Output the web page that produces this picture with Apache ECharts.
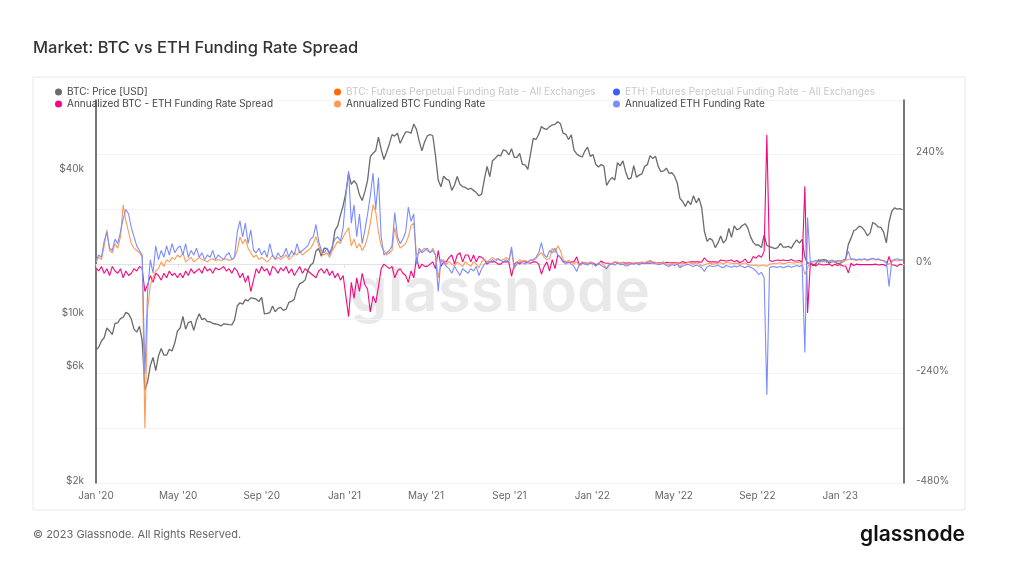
<!DOCTYPE html>
<html>
<head>
<meta charset="utf-8">
<title>Market: BTC vs ETH Funding Rate Spread</title>
<script src="https://cdn.jsdelivr.net/npm/echarts@6/dist/echarts.min.js"></script>
<style>
  html, body { margin: 0; padding: 0; background: #fff; }
  #chart { width: 1024px; height: 568px; }
</style>
</head>
<body>
<div id="chart"></div>
<script>
// one sample every 4 days, starting 2020-01-01
const stepDays = 4;

// BTC price [USD]
const btcPrice = [
  // 2020
  7200, 7400, 7850, 8100, 8900, 8650, 8350, 9300,
  9350, 9750, 9850, 10350, 10200, 9700, 8800,
  8550, 9050, 7900, 4900, 5300, 6200, 6700, 5900,
  6800, 7300, 6850, 6850, 7250, 7130, 7700, 8650,
  8900, 9950, 8800, 9380, 9500, 8700, 9580,
  10200, 9650, 9770, 9470, 9450, 9300, 9250, 9190,
  9080, 9250, 9240, 9200, 9170, 9600, 11000, 11350,
  11200, 11700, 11550, 11900, 11850, 11750, 11500,
  11950, 10200, 10250, 10330, 11000, 10400, 10750, 10850,
  10550, 10670, 11380, 11500, 11750, 12950, 13650, 13800,
  14150, 15500, 16300, 16700, 18700, 19150, 17750,
  19200, 19150, 18300, 19250, 22800, 23800, 26400, 28900,
  // 2021
  32800, 39400, 35500, 36800, 35500, 32100, 30400, 33100,
  36900, 46400, 47900, 49100, 56000, 49700, 45100,
  48400, 52400, 57300, 56500, 58100, 52700, 55800,
  58800, 58800, 58100, 63500, 60300, 53800, 49000, 53500,
  56600, 57400, 56700, 46800, 37000, 34700, 38400, 37300,
  36900, 33500, 35300, 38300, 35500, 34700, 34500,
  33800, 34200, 33500, 32800, 31800, 32300, 37300, 42200,
  38200, 44600, 45600, 47000, 46700, 49500, 49000, 47100,
  50000, 46100, 46000, 47800, 43000, 42800, 41000,
  47700, 55300, 54700, 57400, 62000, 60700, 60300, 61900,
  62900, 63300, 64900, 63600, 58100, 57500, 54700,
  57200, 49400, 47600, 46700, 46200, 49000, 50800, 46500,
  // 2022
  47300, 43100, 41900, 43000, 42300, 35100, 36800, 37900,
  37000, 43800, 42400, 44500, 40100, 37300, 37700,
  42500, 38000, 38800, 39300, 42200, 42900, 46800, 45500,
  46600, 42200, 40100, 40400, 41500, 39500, 39700,
  38500, 36000, 31000, 30100, 28700, 30300, 29200, 31800,
  29700, 31100, 28400, 22600, 20500, 21100, 20700,
  19300, 20200, 21600, 20200, 20800, 23200, 21300, 23800,
  22900, 23200, 23900, 24300, 23300, 21400, 20300, 19800,
  19800, 19300, 21800, 19700, 19500, 19300, 19100,
  19300, 20100, 19400, 19400, 19550, 19170, 20100, 20800,
  20150, 20900, 17600, 16600, 16700, 16200, 16500, 17150,
  17100, 17200, 17100, 16600, 16900, 16840, 16550,
  // 2023
  16600, 16830, 17200, 19900, 21150, 22700, 23050, 23750,
  23450, 22750, 21650, 22200, 24600, 24200, 23550,
  23450, 22400, 20200, 24700, 27400, 28300, 27950, 28100,
  27800
];

// Annualized BTC funding rate [%]
const btcFundingAnn = [
  // 2020
  5, 15, 10, 40, 75, 30, 25, 45,
  35, 60, 130, 95, 70, 45, 35,
  30, 25, 15, -360, -100, -45, -30, -15,
  -10, 5, -5, 10, 5, 15, 10, 20,
  15, 25, 5, 10, 15, 5, 10,
  15, 10, 8, 5, 10, 12, 8, 10,
  8, 10, 12, 8, 10, 15, 30, 60,
  45, 55, 35, 25, 15, 20, 10,
  15, 10, 5, 10, 20, 10, 15, 10,
  15, 20, 10, 15, 25, 20, 30, 20,
  25, 30, 35, 45, 60, 40, 25,
  20, 25, 15, 30, 40, 50, 45, 60,
  // 2021
  70, 80, 40, 55, 35, 45, 30, 40,
  60, 90, 130, 115, 70, 40, 30,
  20, 25, 30, 80, 50, 35, 40,
  45, 60, 85, 90, 20, 25, 30, 35,
  30, 25, 35, 20, -30, 5, 10, 0,
  5, 0, -5, 5, 0, -5, 5,
  0, -5, 5, 0, -8, 5, 10, 5,
  10, 15, 10, 12, 8, 10, 15, 10,
  30, -10, 5, 10, 5, 8, 5,
  10, 8, 12, 20, 25, 15, 10, 12,
  35, 25, 40, 30, 10, 5, 8,
  5, 0, 5, -3, 5, 3, 0, 5,
  // 2022
  3, -5, 2, 4, -3, -8, 0, 2,
  3, 5, 1, 4, -2, 0, 3,
  2, 4, 1, 5, 3, 6, 8, 5,
  4, 2, 3, 5, 1, -2, 2,
  0, 3, -6, 2, 1, 4, 2, 0,
  3, 1, -4, -2, 1, 2, 0,
  1, 2, 3, 0, 4, 3, 2, 1,
  2, 0, 1, 3, -1, -2, -3, -2,
  -4, -3, -2, -5, 0, 1, 2,
  2, 3, 1, 2, 4, 3, 2, 4,
  3, 2, -23, -8, 5, 6, 4, 6,
  5, 6, 4, 7, 5, 6, 5,
  // 2023
  6, 5, 8, 10, 12, 9, 8, 10,
  9, 11, 8, 10, 12, 9, 10,
  8, 7, 2, 0, 6, 8, 7, 9,
  8
];

// Annualized ETH funding rate [%]
const ethFundingAnn = [
  // 2020
  8, 20, 15, 50, 70, 35, 30, 55,
  45, 70, 100, 120, 110, 80, 60,
  40, 30, 20, -240, -60, 10, -20, 40,
  10, 30, 15, 40, 20, 45, 25, 35,
  40, 20, 45, 15, 30, 20, 35,
  15, 25, 10, 20, 15, 30, 10, 20,
  15, 10, 20, 25, 10, 15, 70, 95,
  60, 90, 45, 75, 30, 25, 35,
  20, 30, 15, 45, 20, 10, 25, 15,
  20, 35, 15, 30, 20, 45, 25, 30,
  35, 40, 55, 60, 87, 50, 30,
  25, 35, 20, 40, 55, 60, 50, 80,
  // 2021
  150, 204, 90, 130, 60, 110, 45, 75,
  110, 150, 200, 120, 190, 60, 20,
  25, 30, 40, 113, 60, 45, 55,
  70, 125, 94, 110, 0, 35, 25, 30,
  35, 25, 30, 20, -60, 10, 5, -5,
  -10, -20, -5, -15, -25, -10, -15,
  -20, -10, -15, -5, -25, -10, 0, 5,
  5, 10, 5, 12, 8, 5, 10, 5,
  38, -8, 0, 5, 3, 0, 5,
  8, 10, 15, 25, 47, 20, 15, 30,
  25, 35, 20, 15, 5, 0, 5,
  0, -5, -16, 0, 3, 0, -2, 3,
  // 2022
  0, -4, 2, -3, -6, -10, -2, 1,
  -2, 3, -1, 0, -4, -3, 1,
  0, 2, -2, 3, 1, 4, 6, 2,
  1, -1, 0, 2, -3, -5, -1,
  -3, 0, -8, -4, -2, 0, -3, -5,
  -2, -4, -8, -16, -6, -3, -5,
  -4, -2, -6, -8, -3, -5, -7, -4,
  -6, -3, -5, -8, -4, -7, -10, -15,
  -23, -18, -30, -287, -8, -5, -6,
  -7, -5, -8, -6, -4, -7, -5, -3,
  -5, -2, -194, 102, 4, 6, 8, 5,
  6, 8, 5, 7, 9, 6, 8,
  // 2023
  7, 9, 12, 28, 10, 12, 9, 11,
  10, 12, 9, 11, 13, 10, 12,
  9, 8, 6, -49, 8, 10, 12, 9,
  10
];

// Annualized BTC - ETH funding rate spread [%]
const fundingSpread = [
  // 2020
  -8, -15, -5, -20, -10, -25, -5, -15,
  -20, -10, -30, -15, -25, -20, -10,
  -15, -5, -10, -60, -45, -25, -40, -20,
  -25, -35, -20, -30, -15, -25, -20, -30,
  -20, -30, -15, -25, -10, -20, -15,
  -10, -20, -5, -15, -10, -20, -8, -12,
  -10, -5, -15, -10, -20, -8, -15, -30,
  -20, -40, -25, -60, -35, -10, -20,
  -5, -15, -10, -25, -5, -10, -20, -8,
  -15, -5, -20, -10, -25, -15, -5, -20,
  -10, -15, -20, -25, -30, -15, -10,
  -20, -10, -25, -15, -30, -20, -35, -25,
  // 2021
  -70, -115, -40, -75, -30, -60, -20, -45,
  -55, -105, -70, -85, -50, -10, 0,
  -5, -10, -5, -30, -15, -10, -20,
  -25, -40, -15, -30, 15, -10, 0, -5,
  -5, 0, 5, -10, 30, -5, 5, 5,
  15, 20, 0, 20, 25, 5, 20,
  20, 5, 20, 5, 17, 15, 10, 0,
  5, 5, 5, 0, 0, 5, 5, 5,
  -27, 0, 5, 0, 7, 5, 3,
  2, 5, 5, 0, -22, -5, 5, -15,
  10, -10, 20, 15, 5, 5, 3,
  5, 5, 16, -3, 2, 3, 2, 2,
  // 2022
  3, -1, 0, 7, 3, 2, 2, 1,
  5, 2, 2, 4, 2, 3, 2,
  2, 2, 3, 2, 2, 2, 2, 3,
  3, 3, 3, 3, 4, 3, 3,
  3, 3, 2, 6, 3, 4, 5, 5,
  5, 5, 4, 14, 7, 5, 5,
  5, 4, 9, 8, 7, 8, 9, 5,
  8, 3, 6, 11, 3, 5, 17, 13,
  19, 15, 28, 284, 8, 6, 8,
  9, 8, 9, 8, 8, 10, 7, 7,
  8, 4, 171, -107, 1, 0, -4, 1,
  -1, -2, -1, 0, -4, 0, -3,
  // 2023
  -1, -4, -4, -19, 2, -3, 0, -1,
  -1, -1, -1, -1, -1, 0, -2,
  -1, -1, -4, 17, -2, -2, -5, 0,
  -2
];

// x axis tick labels (year, month index)
const xTickDates = [
  [2020, 0], [2020, 4], [2020, 8], [2021, 0], [2021, 4],
  [2021, 8], [2022, 0], [2022, 4], [2022, 8], [2023, 0]
];
const priceTicks = [2000, 6000, 10000, 40000];
const monthNames = ['Jan', 'Feb', 'Mar', 'Apr', 'May', 'Jun', 'Jul', 'Aug', 'Sep', 'Oct', 'Nov', 'Dec'];

const dates = btcPrice.map((_, i) => new Date(2020, 0, 1 + i * stepDays).getTime());
const pairs = arr => arr.map((v, i) => [dates[i], v]);
const xTicks = xTickDates.map(d => new Date(d[0], d[1], 1).getTime());

const chart = echarts.init(document.getElementById('chart'));

const legendText = { color: '#444', fontSize: 10, lineHeight: 12 };
const legendOff = { color: '#c8c8c8', fontSize: 10, lineHeight: 12 };
const legendBase = {
  orient: 'vertical',
  top: 86,
  icon: 'circle',
  itemWidth: 7,
  itemHeight: 7,
  itemGap: 0,
  selectedMode: false,
  padding: 0,
  textStyle: legendText
};

// y labels sit a few px above their grid line
const yLabel = {
  color: '#666',
  fontSize: 10,
  margin: 12,
  verticalAlign: 'bottom',
  lineHeight: 5
};

const option = {
  animation: false,
  backgroundColor: '#fff',
  textStyle: { fontFamily: 'Inter' },
  title: {
    text: 'Market: BTC vs ETH Funding Rate Spread',
    left: 33,
    top: 40,
    padding: 0,
    textStyle: { fontSize: 16.5, fontWeight: 500, color: '#333', fontFamily: 'Inter' }
  },
  legend: [
    Object.assign({}, legendBase, {
      left: 55,
      data: ['BTC: Price [USD]', 'Annualized BTC - ETH Funding Rate Spread']
    }),
    Object.assign({}, legendBase, {
      left: 334,
      data: [
        { name: 'BTC: Futures Perpetual Funding Rate - All Exchanges', textStyle: legendOff },
        'Annualized BTC Funding Rate'
      ]
    }),
    Object.assign({}, legendBase, {
      left: 613,
      data: [
        { name: 'ETH: Futures Perpetual Funding Rate - All Exchanges', textStyle: legendOff },
        'Annualized ETH Funding Rate'
      ]
    })
  ],
  grid: { left: 96, right: 120, top: 100, bottom: 85 },
  // dates as plain timestamps on a value axis, so the tick positions can be listed
  xAxis: {
    type: 'value',
    min: new Date(2020, 0, 1).getTime(),
    max: new Date(2023, 3, 5).getTime(),
    axisLine: { show: true, lineStyle: { color: '#e3e3e3' } },
    axisTick: { show: true, length: 4, lineStyle: { color: '#e3e3e3' }, customValues: xTicks },
    splitLine: { show: false },
    axisLabel: {
      customValues: xTicks,
      color: '#666',
      fontSize: 10,
      margin: 8,
      formatter: v => {
        const d = new Date(v);
        return monthNames[d.getMonth()] + " '" + String(d.getFullYear()).slice(2);
      }
    }
  },
  yAxis: [
    {
      type: 'log',
      position: 'left',
      min: 2000,
      max: 80000,
      axisLine: { show: true, lineStyle: { color: '#4a4a4a', width: 1.5 } },
      axisTick: { show: false },
      splitLine: { show: false },
      axisLabel: Object.assign({}, yLabel, {
        customValues: priceTicks,
        formatter: v => '$' + Math.round(v / 1000) + 'k'
      })
    },
    {
      type: 'value',
      position: 'right',
      min: -480,
      max: 360,
      interval: 120,
      axisLine: { show: true, lineStyle: { color: '#4a4a4a', width: 1.5 } },
      axisTick: { show: false },
      splitLine: { show: true, lineStyle: { color: '#f3f3f3' } },
      axisLabel: Object.assign({}, yLabel, {
        showMaxLabel: false,
        formatter: v => (v % 240 === 0 ? v + '%' : '')
      })
    }
  ],
  graphic: [
    {
      type: 'rect',
      z: -10,
      shape: { x: 33, y: 77, width: 932, height: 433 },
      style: { fill: 'none', stroke: '#e8e8e8', lineWidth: 1 }
    },
    {
      type: 'text',
      z: -5,
      x: 500,
      y: 293,
      style: {
        text: 'glassnode',
        fill: '#e9e9e9',
        font: '600 60px Inter',
        textAlign: 'center',
        textVerticalAlign: 'middle'
      }
    },
    {
      type: 'text',
      x: 33,
      y: 535,
      style: {
        text: '© 2023 Glassnode. All Rights Reserved.',
        fill: '#666',
        font: '11px Inter',
        textVerticalAlign: 'middle'
      }
    },
    {
      type: 'text',
      x: 965,
      y: 535,
      style: {
        text: 'glassnode',
        fill: '#111',
        font: '600 21px Inter',
        textAlign: 'right',
        textVerticalAlign: 'middle'
      }
    }
  ],
  series: [
    {
      name: 'BTC: Price [USD]',
      type: 'line',
      yAxisIndex: 0,
      showSymbol: false,
      color: '#6b6b6b',
      lineStyle: { width: 1.3 },
      data: pairs(btcPrice)
    },
    {
      name: 'BTC: Futures Perpetual Funding Rate - All Exchanges',
      type: 'line',
      yAxisIndex: 1,
      color: '#ff6a00',
      data: []
    },
    {
      name: 'ETH: Futures Perpetual Funding Rate - All Exchanges',
      type: 'line',
      yAxisIndex: 1,
      color: '#3b5bfa',
      data: []
    },
    {
      name: 'Annualized BTC - ETH Funding Rate Spread',
      type: 'line',
      yAxisIndex: 1,
      showSymbol: false,
      color: '#f7067e',
      lineStyle: { width: 1.1 },
      data: pairs(fundingSpread)
    },
    {
      name: 'Annualized BTC Funding Rate',
      type: 'line',
      yAxisIndex: 1,
      showSymbol: false,
      color: '#ff9a52',
      lineStyle: { width: 1.1 },
      data: pairs(btcFundingAnn)
    },
    {
      name: 'Annualized ETH Funding Rate',
      type: 'line',
      yAxisIndex: 1,
      showSymbol: false,
      color: '#7b8cff',
      lineStyle: { width: 1.1 },
      data: pairs(ethFundingAnn)
    }
  ]
};

chart.setOption(option);
</script>
</body>
</html>
